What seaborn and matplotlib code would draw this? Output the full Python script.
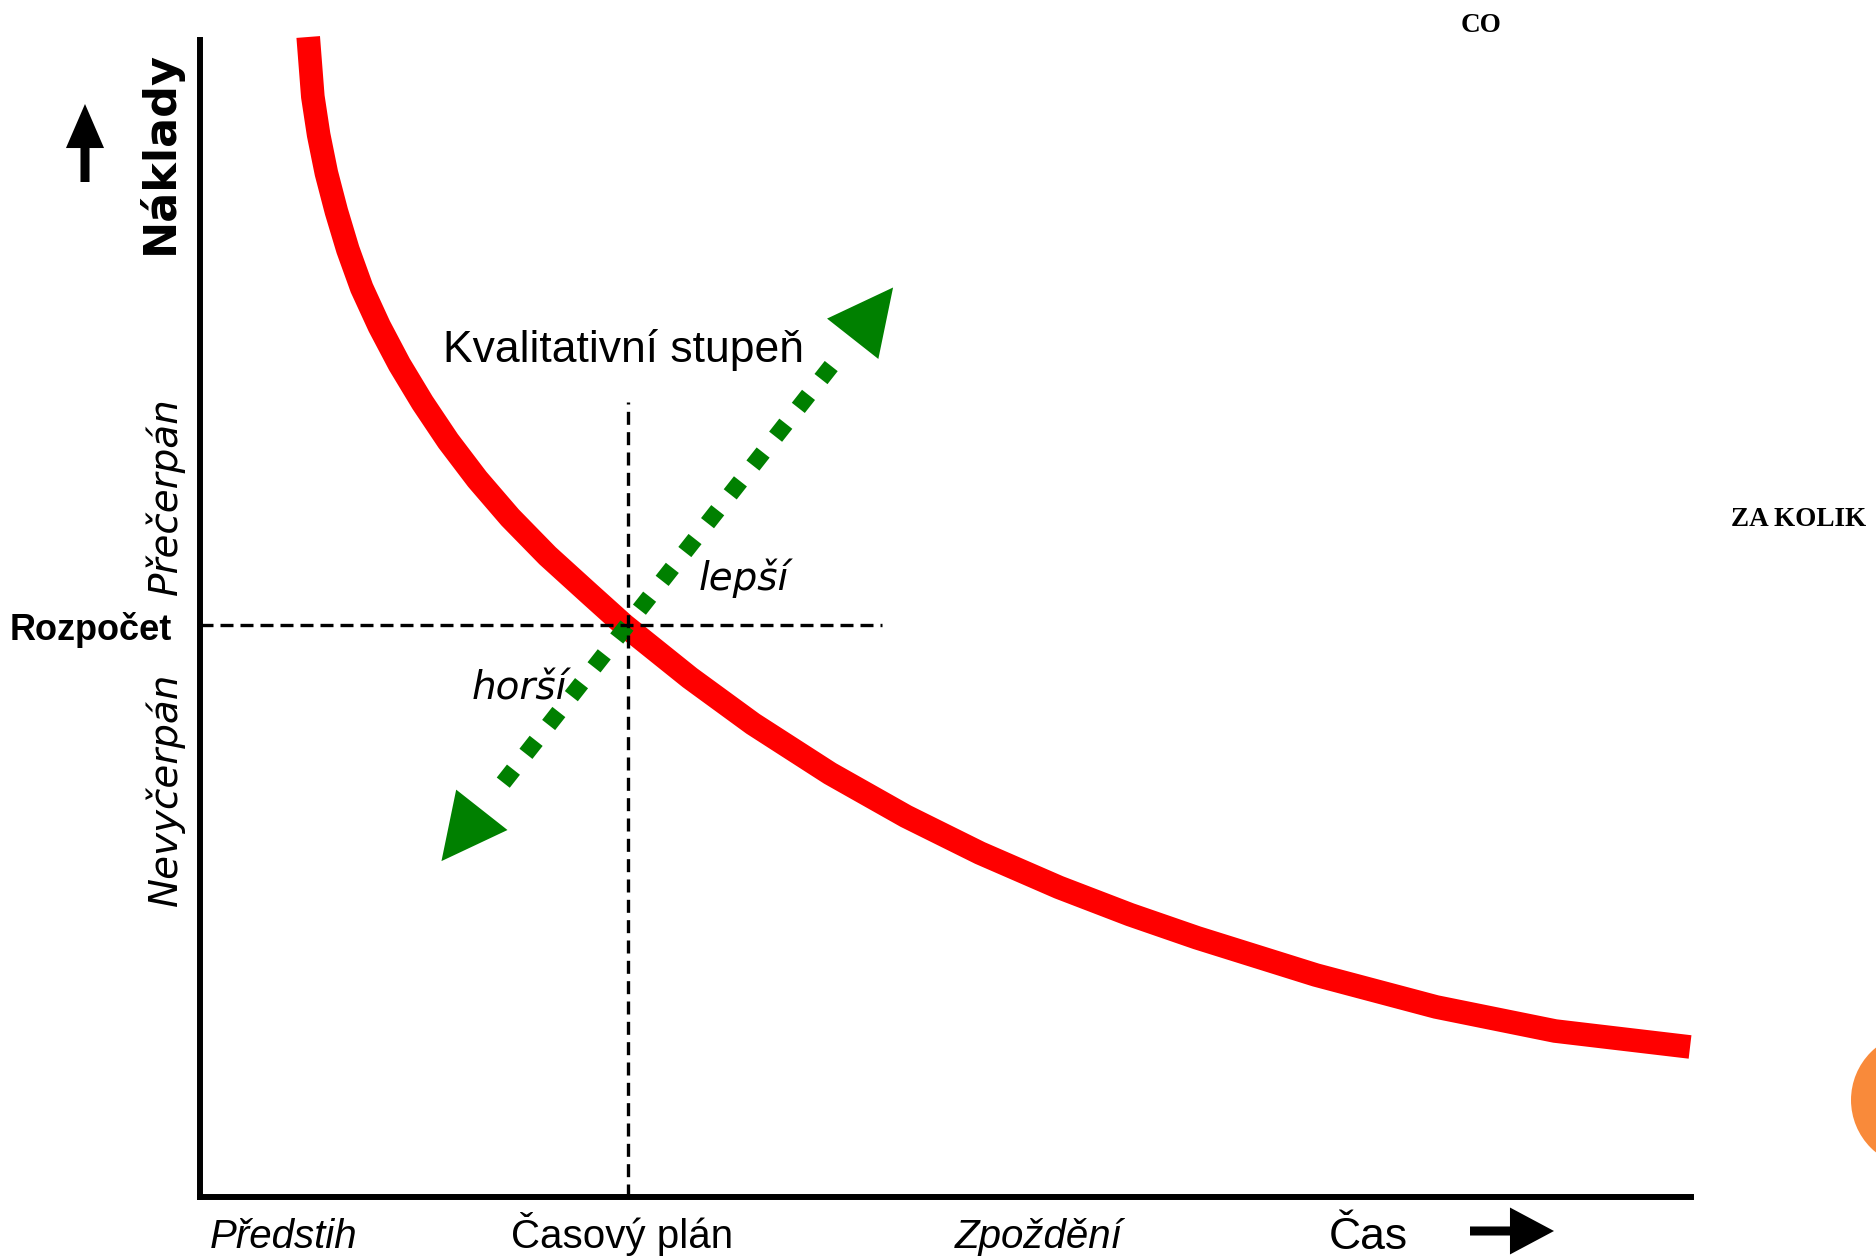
"""Cost vs. schedule diagram (Náklady / Čas) with budget and quality arrows."""

import matplotlib
matplotlib.use("Agg")
import matplotlib.pyplot as plt
import matplotlib.patches as mpatches
import seaborn as sns

W, H = 1876, 1258

# red cost curve (time units 0..10, cost units 0..10)
curve_time = [0.726, 0.757, 0.796, 0.848, 0.915, 0.992, 1.085, 1.203, 1.338,
              1.493, 1.665, 1.860, 2.081, 2.332, 2.614, 2.845, 3.287, 3.710,
              4.227, 4.737, 5.233, 5.763, 6.240, 6.689, 7.487, 8.293, 9.091,
              9.997]
curve_cost = [10.026, 9.511, 9.180, 8.849, 8.518, 8.188, 7.856, 7.525, 7.195,
              6.864, 6.533, 6.202, 5.871, 5.540, 5.210, 4.942, 4.485, 4.087,
              3.658, 3.287, 2.970, 2.673, 2.437, 2.237, 1.915, 1.639, 1.431,
              1.293]

budget_cost = 4.94          # Rozpočet
plan_time = 2.87            # Časový plán
budget_line_end = 4.575
plan_line_top = 6.87
axis_len = [0.0, 10.0]

# quality arrow: horší (worse) -> lepší (better)
quality_time = [1.62, 4.65]
quality_cost = [2.90, 7.86]

left_labels = ["Přečerpán", "Nevyčerpán"]
bottom_labels = ["Předstih", "Časový plán", "Zpoždění"]

GREEN = "#008000"
RED = "#FF0000"
SANS = ["Liberation Sans", "DejaVu Sans"]
DEJAVU = ["DejaVu Sans"]
SERIF = ["Liberation Serif", "DejaVu Serif"]


def fpx(x, y):
    """Top-left pixel position -> figure fraction."""
    return x / W, 1 - y / H


def put(fig, x, y, s, **kw):
    fx, fy = fpx(x, y)
    kw.setdefault("color", "black")
    fig.text(fx, fy, s, **kw)


def arrow(fig, start, end, hl, hw, tw, color="black"):
    """Block arrow between two pixel positions (sizes in points)."""
    style = f"simple,head_length={hl},head_width={hw},tail_width={tw}"
    fig.add_artist(mpatches.FancyArrowPatch(
        fpx(*start), fpx(*end), transform=fig.transFigure,
        arrowstyle=style, mutation_scale=1, color=color, lw=0,
        shrinkA=0, shrinkB=0))


def main():
    sns.set_theme(style="white")
    fig = plt.figure(figsize=(W / 100, H / 100), dpi=100)
    ax = fig.add_axes([0, 0, 1, 1])
    ax.set_xlim(-200 / 149.05, (W - 200) / 149.05)
    ax.set_ylim((1196.5 - H) / 115.65, 1196.5 / 115.65)
    ax.axis("off")

    # axes of the diagram
    ax.plot([0, 0], axis_len, color="black", lw=4.3, solid_capstyle="projecting")
    ax.plot(axis_len, [0, 0], color="black", lw=4.3, solid_capstyle="projecting")

    # cost curve
    sns.lineplot(x=curve_time, y=curve_cost, ax=ax, color=RED, linewidth=17,
                 sort=False, estimator=None, solid_capstyle="butt",
                 solid_joinstyle="round", zorder=2)

    # quality arrow body (diamonds), kept clear of the two heads
    t0, t1 = quality_time
    c0, c1 = quality_cost
    f0, f1 = 0.13, 0.87
    ax.plot([t0 + f0 * (t1 - t0), t0 + f1 * (t1 - t0)],
            [c0 + f0 * (c1 - c0), c0 + f1 * (c1 - c0)],
            color=GREEN, lw=11.9, linestyle=(1.92, (1.0, 1.22)),
            dash_capstyle="butt", zorder=3)

    # budget / schedule reference lines
    ax.plot([0, budget_line_end], [budget_cost, budget_cost], color="black",
            lw=2.4, linestyle=(0, (3.9, 2.1)), zorder=4)
    ax.plot([plan_time, plan_time], [0, plan_line_top], color="black",
            lw=2.4, linestyle=(0, (3.9, 2.2)), zorder=4)

    # quality arrow heads
    mid = ((t0 + t1) / 2, (c0 + c1) / 2)
    for k in (0, 1):
        ax.annotate("", xy=(quality_time[k], quality_cost[k]), xytext=mid,
                    arrowprops=dict(arrowstyle="simple,head_length=47,head_width=47,tail_width=0",
                                    mutation_scale=1, color=GREEN, lw=0,
                                    shrinkA=0, shrinkB=0), zorder=5)

    # direction arrows
    arrow(fig, (85, 182), (85, 104), 31.7, 27.4, 6.5)
    arrow(fig, (1470, 1231), (1554, 1231), 31.7, 33.8, 6.5)

    # axis texts
    put(fig, 173, 152, "Náklady", rotation=90, rotation_mode="anchor",
        ha="center", va="baseline", family=DEJAVU, fontsize=32, weight="bold")
    put(fig, 177, 496, left_labels[0], rotation=90, rotation_mode="anchor",
        ha="center", va="baseline", family=DEJAVU, fontsize=28, style="oblique")
    put(fig, 177, 789, left_labels[1], rotation=90, rotation_mode="anchor",
        ha="center", va="baseline", family=DEJAVU, fontsize=28, style="oblique")
    put(fig, 10, 640, "Rozpočet", ha="left", va="baseline", family=SANS,
        fontsize=26, weight="bold")

    put(fig, 443, 362, "Kvalitativní stupeň", ha="left", va="baseline",
        family=SANS, fontsize=32)
    put(fig, 699, 590, "lepší", ha="left", va="baseline", family=DEJAVU,
        fontsize=28, style="oblique")
    put(fig, 472, 699, "horší", ha="left", va="baseline", family=DEJAVU,
        fontsize=28, style="oblique")

    put(fig, 210, 1248, bottom_labels[0], ha="left", va="baseline", family=SANS,
        fontsize=29, style="italic")
    put(fig, 511, 1248, bottom_labels[1], ha="left", va="baseline", family=SANS,
        fontsize=29)
    put(fig, 955, 1248, bottom_labels[2], ha="left", va="baseline", family=SANS,
        fontsize=29, style="italic")
    put(fig, 1329, 1249, "Čas", ha="left", va="baseline", family=SANS, fontsize=32)

    # slide leftovers
    put(fig, 1481, 32, "CO", ha="center", va="baseline", family=SERIF,
        fontsize=19.5, weight="bold")
    put(fig, 1731, 526, "ZA KOLIK", ha="left", va="baseline", family=SERIF,
        fontsize=19.5, weight="bold")
    cx, cy = fpx(1918.6, 1100)
    fig.add_artist(mpatches.Ellipse((cx, cy), 2 * 67.6 / W, 2 * 67.6 / H,
                                    transform=fig.transFigure, color="#F98A3A", lw=0))

    fig.savefig("out.png", dpi=100, facecolor="white")
    plt.close(fig)


if __name__ == "__main__":
    main()
